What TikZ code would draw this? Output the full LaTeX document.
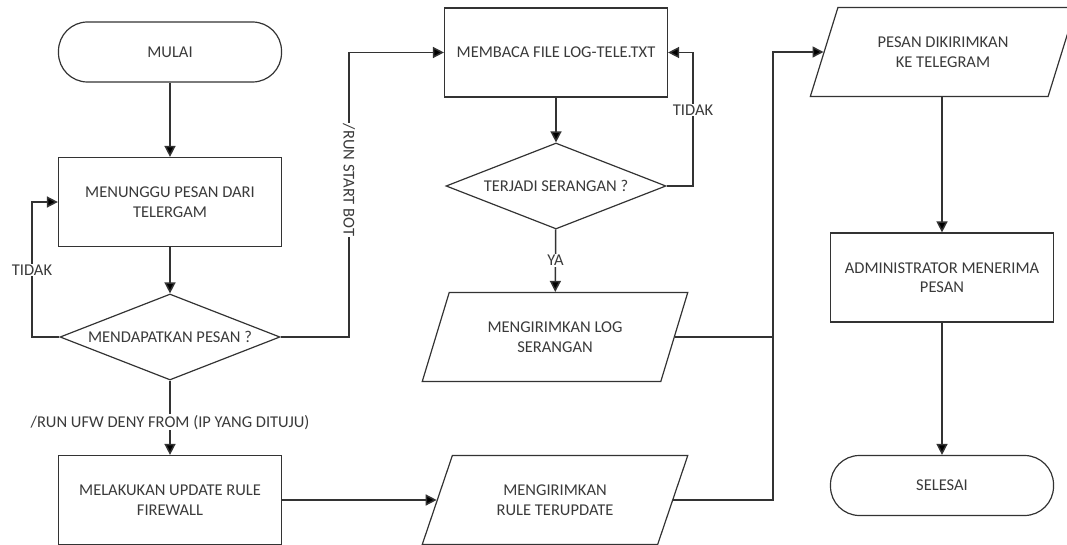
\documentclass[tikz,border=0pt]{standalone}
\usepackage{fontspec}
\setmainfont{Carlito}
\usetikzlibrary{shapes.geometric,arrows.meta,calc}
\definecolor{linec}{HTML}{333333}
\definecolor{textc}{HTML}{3A3A3A}
\begin{document}
\begin{tikzpicture}[x=1pt,y=-1pt,
  every node/.style={font=\fontsize{16.5}{19.5}\selectfont, text=textc},
  box/.style={draw=linec, line width=1.2pt, minimum width=223pt, minimum height=89pt, align=center, inner sep=2pt},
  term/.style={box, rounded corners=29pt, minimum height=60pt},
  dec/.style={diamond, draw=linec, line width=1.2pt, shape aspect=2.56, minimum width=220pt, minimum height=86pt, inner sep=0pt, align=center},
  io/.style={trapezium, draw=linec, line width=1.2pt, trapezium left angle=62.7, trapezium right angle=117.3, trapezium stretches=true, minimum width=266pt, minimum height=89pt, align=center, inner sep=2pt},
  arr/.style={draw=linec, line width=1.5pt, -{Triangle[length=11pt,width=11pt,fill=black]}},
  conn/.style={draw=linec, line width=1.5pt},
  lbl/.style={fill=white, inner sep=1pt}
]
\useasboundingbox (0,0) rectangle (1067,545);

\node[term] (mulai) at (170,52) {MULAI};
\node[box] (wait) at (170,202) {MENUNGGU PESAN DARI\\TELERGAM};
\node[dec] (d1) at (170,337) {MENDAPATKAN PESAN ?};
\node[box] (upd) at (170,500) {MELAKUKAN UPDATE RULE\\FIREWALL};
\node[box] (baca) at (556,52.5) {MEMBACA FILE LOG-TELE.TXT};
\node[dec] (d2) at (556,186) {TERJADI SERANGAN ?};
\node[io] (log) at (555,337) {MENGIRIMKAN LOG\\SERANGAN};
\node[io] (rule) at (555,500) {MENGIRIMKAN\\RULE TERUPDATE};
\node[io] (kirim) at (943,52) {PESAN DIKIRIMKAN\\KE TELEGRAM};
\node[box] (admin) at (942,277.5) {ADMINISTRATOR MENERIMA\\PESAN};
\node[term] (selesai) at (942,485.5) {SELESAI};

\coordinate (c1) at (32,337);
\coordinate (c2) at (349,337);
\coordinate (c3) at (693,186);
\coordinate (c4) at (773,500);

\draw[arr] (mulai) -- (wait);
\draw[arr] (wait) -- (d1);
\draw[arr] (d1) -- node[lbl, pos=0.56] {/RUN UFW DENY FROM (IP YANG DITUJU)} (upd);
\draw[arr] (d1.west) -- (c1) |- (wait.west);
\draw[arr] (d1.east) -- (c2) |- (baca.west);
\draw[arr] (baca) -- (d2);
\draw[arr] (d2.east) -- (c3) |- (baca.east);
\draw[arr] (d2) -- node[lbl] {YA} (log);
\draw[arr] (upd) -- (rule.left side);
\draw[arr] (rule.right side) -- (c4) |- (kirim.left side);
\draw[conn] (log.right side) -- (log.right side -| c4);
\draw[arr] (kirim.south -| admin.north) -- (admin.north);
\draw[arr] (admin) -- (selesai);

\node[lbl] (t1) at (32,270) {TIDAK};
\node[lbl, rotate=-90] (t2) at (349,180) {/RUN START BOT};
\node[lbl] (t3) at (693,110) {TIDAK};
\end{tikzpicture}
\end{document}
